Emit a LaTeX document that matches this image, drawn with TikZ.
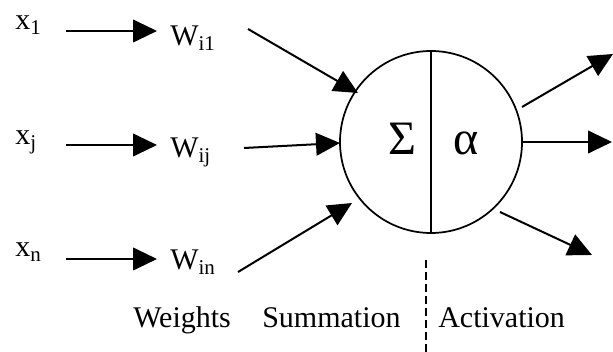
\documentclass[tikz,border=0pt]{standalone}
\usepackage{fontspec}
\setmainfont{Liberation Serif}
\usetikzlibrary{arrows.meta}
\tikzset{
  lbl/.style={inner sep=0pt, anchor=base west, font=\fontsize{22.5}{26}\selectfont},
  big/.style={inner sep=0pt, anchor=base west, font=\fontsize{36}{40}\selectfont},
  arr/.style={line width=1.5pt, -{Triangle[length=18pt,width=17pt]}},
  ln/.style={line width=1.3pt},
}
\begin{document}
\begin{tikzpicture}[x=0.75pt,y=-0.75pt]
\useasboundingbox (0,0) rectangle (613,352);
% neuron
\node[circle, draw, line width=1.3pt, minimum size=136.5pt, inner sep=0pt] (c) at (431,142) {};
\draw[ln] (c.north) -- (c.south);
\node[big] (sig) at (388,155) {Σ};
\node[big] (alp) at (453,155) {α};
% inputs
\node[lbl] (x1) at (15,30) {x\textsubscript{1}};
\node[lbl] (xj) at (15,145) {x\textsubscript{j}};
\node[lbl] (xn) at (15,257) {x\textsubscript{n}};
\node[lbl] (w1) at (170,46) {W\textsubscript{i1}};
\node[lbl] (wj) at (170,158) {W\textsubscript{ij}};
\node[lbl] (wn) at (170,270) {W\textsubscript{in}};
% input arrow endpoints
\coordinate (a1s) at (66,31);  \coordinate (a1e) at (157,31);
\coordinate (ajs) at (66,145); \coordinate (aje) at (157,145);
\coordinate (ans) at (66,259); \coordinate (ane) at (157,259);
\draw[arr] (a1s) -- (a1e);
\draw[arr] (ajs) -- (aje);
\draw[arr] (ans) -- (ane);
% weights to neuron
\coordinate (b1s) at (248,29);  \coordinate (b1e) at (358,93);
\coordinate (bjs) at (244,148); \coordinate (bje) at (340,143);
\coordinate (bns) at (238,272); \coordinate (bne) at (352,203);
\draw[arr] (b1s) -- (b1e);
\draw[arr] (bjs) -- (bje);
\draw[arr] (bns) -- (bne);
% outputs
\coordinate (o1s) at (522,107); \coordinate (o1e) at (613,54);
\coordinate (o2s) at (522,142); \coordinate (o2e) at (612,142);
\coordinate (o3s) at (500,212); \coordinate (o3e) at (592,255);
\draw[arr] (o1s) -- (o1e);
\draw[arr] (o2s) -- (o2e);
\draw[arr] (o3s) -- (o3e);
% dashed divider
\coordinate (d1) at (426,260); \coordinate (d2) at (426,352);
\draw[line width=1.3pt, dash pattern=on 6pt off 3pt] (d1) -- (d2);
% bottom labels
\node[lbl] (wt) at (133,327) {Weights};
\node[lbl] (sm) at (262,327) {Summation};
\node[lbl] (ac) at (438,327) {Activation};
\end{tikzpicture}
\end{document}
